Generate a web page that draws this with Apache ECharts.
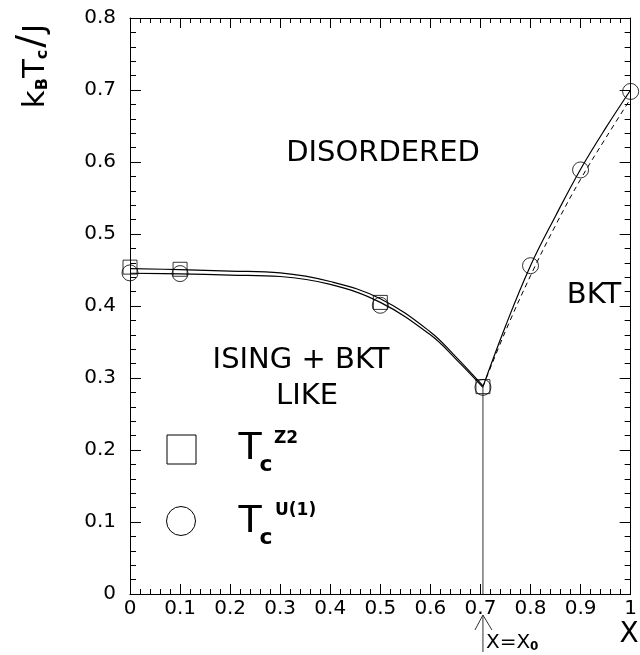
<!DOCTYPE html>
<html>
<head>
<meta charset="utf-8">
<script src="https://cdn.jsdelivr.net/npm/echarts@6/dist/echarts.min.js"></script>
<style>
html, body { margin: 0; padding: 0; background: #fff; }
#chart { width: 640px; height: 655px; }
</style>
</head>
<body>
<div id="chart"></div>
<script>
// tick labels
const xTickLabels = ['0', '0.1', '0.2', '0.3', '0.4', '0.5', '0.6', '0.7', '0.8', '0.9', '1']
const yTickLabels = ['0', '0.1', '0.2', '0.3', '0.4', '0.5', '0.6', '0.7', '0.8']

// measured points
const xCross = 0.705
const z2X = [0, 0.1, 0.5, xCross]
const z2Tc = [0.454, 0.451, 0.405, 0.288]
const u1X = [0, 0.1, 0.5, xCross, 0.8, 0.9, 1.0]
const u1Tc = [0.446, 0.445, 0.401, 0.287, 0.456, 0.589, 0.698]

// fitted curves
const fitX = [0, 0.1, 0.2, 0.3, 0.4, 0.5, 0.6, 0.65, xCross]
const z2Fit = [0.452, 0.4505, 0.4485, 0.446, 0.434, 0.41, 0.364, 0.33, 0.289]
const u1Fit = [0.4455, 0.4445, 0.443, 0.441, 0.43, 0.405, 0.36, 0.327, 0.287]
const bktX = [xCross, 0.75, 0.8, 0.85, 0.9, 0.95, 1.0]
const bktSolid = [0.288, 0.372, 0.456, 0.525, 0.590, 0.647, 0.700]
const bktDashed = [0.288, 0.365, 0.442, 0.512, 0.576, 0.633, 0.688]

const zip = (xs, ys) => xs.map((x, i) => [x, ys[i]])

const FONT = 'DejaVu Sans'
const black = '#000'

const chart = echarts.init(document.getElementById('chart'), null, { renderer: 'canvas' })

const baseX = {
  type: 'value',
  min: 0,
  max: 1,
  interval: 0.1,
  axisLine: { show: true, onZero: false, lineStyle: { color: black, width: 1 } },
  axisTick: { show: true, inside: true, length: 10, lineStyle: { color: black } },
  minorTick: { show: true, splitNumber: 5, length: 5, lineStyle: { color: black } },
  splitLine: { show: false },
  minorSplitLine: { show: false }
}
const baseY = {
  type: 'value',
  min: 0,
  max: 0.8,
  interval: 0.1,
  axisLine: { show: true, onZero: false, lineStyle: { color: black, width: 1 } },
  axisTick: { show: true, inside: true, length: 11, lineStyle: { color: black } },
  minorTick: { show: true, splitNumber: 5, length: 6, lineStyle: { color: black } },
  splitLine: { show: false },
  minorSplitLine: { show: false }
}

const lineStyle = { color: black, width: 1.2 }
const curve = (data, style) => ({
  type: 'line', data, smooth: 0.4, showSymbol: false, lineStyle: style || lineStyle, z: 2
})

const option = {
  animation: false,
  backgroundColor: '#fff',
  grid: { left: 130, right: 1, top: 18, bottom: 61 },
  xAxis: [
    Object.assign({}, baseX, {
      position: 'bottom',
      axisLabel: {
        show: true,
        showMaxLabel: true,
        margin: 5,
        color: black,
        fontFamily: FONT,
        fontSize: 20,
        formatter: (v, i) => xTickLabels[i]
      }
    }),
    Object.assign({}, baseX, { position: 'top', axisLabel: { show: false } })
  ],
  yAxis: [
    Object.assign({}, baseY, {
      position: 'left',
      axisLabel: {
        show: true,
        margin: 14,
        color: black,
        fontFamily: FONT,
        fontSize: 20,
        formatter: (v, i) => yTickLabels[i]
      }
    }),
    Object.assign({}, baseY, { position: 'right', axisLabel: { show: false } })
  ],
  series: [
    curve(zip(fitX, z2Fit)),
    curve(zip(fitX, u1Fit)),
    curve(zip(bktX, bktSolid)),
    curve(zip(bktX, bktDashed), { color: black, width: 1, type: [5, 4] }),
    {
      type: 'line', data: [[xCross, 0], [xCross, z2Tc[3]]],
      showSymbol: false, lineStyle: { color: '#333', width: 1 }, z: 2
    },
    {
      type: 'scatter', data: zip(z2X, z2Tc), symbol: 'rect', symbolSize: 14,
      itemStyle: { color: 'rgba(0,0,0,0)', borderColor: black, borderWidth: 1 }, z: 3
    },
    {
      type: 'scatter', data: zip(u1X, u1Tc), symbol: 'circle', symbolSize: 16,
      itemStyle: { color: 'rgba(0,0,0,0)', borderColor: black, borderWidth: 1 }, z: 3
    }
  ]
}

chart.setOption(option)

// annotations
const txt = (text, x, y, size, extra) => Object.assign({
  type: 'text', x, y,
  style: {
    text, fill: black, font: `${size}px "${FONT}"`,
    align: 'center', verticalAlign: 'middle'
  }
}, extra || {})

const [ax] = chart.convertToPixel({ gridIndex: 0 }, [xCross, 0])
const axisBottom = chart.convertToPixel({ gridIndex: 0 }, [0, 0])[1]

chart.setOption({
  graphic: [
    txt('DISORDERED', 383, 153, 29),
    txt('BKT', 594, 295, 29),
    txt('ISING + BKT', 301, 360, 29),
    txt('LIKE', 307, 396, 29),
    // legend
    { type: 'rect', shape: { x: 167, y: 435, width: 29, height: 29 },
      style: { fill: 'none', stroke: black, lineWidth: 1 } },
    { type: 'circle', shape: { cx: 181, cy: 521, r: 14.5 },
      style: { fill: 'none', stroke: black, lineWidth: 1 } },
    txt('T', 250, 449, 38),
    { type: 'text', x: 266, y: 465, style: { text: 'c', fill: black, font: `bold 22px "${FONT}"`, align: 'center', verticalAlign: 'middle' } },
    { type: 'text', x: 274, y: 439, style: { text: 'Z2', fill: black, font: `bold 17px "${FONT}"`, align: 'left', verticalAlign: 'middle' } },
    txt('T', 250, 522, 38),
    { type: 'text', x: 266, y: 538, style: { text: 'c', fill: black, font: `bold 22px "${FONT}"`, align: 'center', verticalAlign: 'middle' } },
    { type: 'text', x: 275, y: 511, style: { text: 'U(1)', fill: black, font: `bold 17px "${FONT}"`, align: 'left', verticalAlign: 'middle' } },
    // y axis title
    {
      type: 'text', x: 32, y: 66, rotation: Math.PI / 2,
      style: {
        text: '{m|k}{s|B}{m|T}{s|c}{sl|/}{m|J}',
        align: 'center', verticalAlign: 'middle',
        rich: {
          m: { fontFamily: FONT, fontSize: 31, fill: black, verticalAlign: 'bottom' },
          sl: { fontFamily: FONT, fontSize: 38, fill: black, verticalAlign: 'bottom', padding: [0, 2, 0, 2] },
          s: { fontFamily: FONT, fontSize: 16, fontWeight: 'bold', fill: black, verticalAlign: 'bottom' }
        }
      }
    },
    // x axis title
    txt('X', 629, 635, 28),
    // x = x0 marker below the axis
    { type: 'line', shape: { x1: ax, y1: axisBottom + 21, x2: ax, y2: 652 },
      style: { stroke: '#333', lineWidth: 1 } },
    { type: 'polyline', shape: { points: [[ax - 8, axisBottom + 36], [ax, axisBottom + 21], [ax + 9, axisBottom + 36]] },
      style: { stroke: '#333', lineWidth: 1, fill: 'none' } },
    {
      type: 'text', x: ax + 3, y: 643,
      style: {
        text: '{a|X=X}{b|0}', align: 'left', verticalAlign: 'middle',
        rich: {
          a: { fontFamily: FONT, fontSize: 20, fill: black, verticalAlign: 'bottom' },
          b: { fontFamily: FONT, fontSize: 12, fontWeight: 'bold', fill: black, verticalAlign: 'bottom' }
        }
      }
    }
  ]
})
</script>
</body>
</html>
